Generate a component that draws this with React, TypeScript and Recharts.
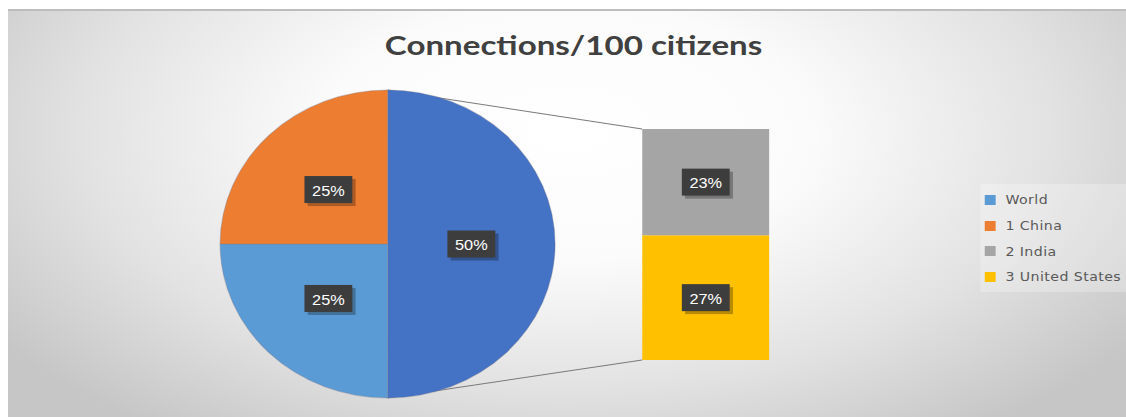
import { PieChart, Pie, Cell, BarChart, Bar, XAxis, YAxis, LabelList } from "recharts";

// Share of connections per 100 citizens (percent of total)
const categories = ["World", "1 China", "2 India", "3 United States"];
const shares = [25, 25, 23, 27];
const colors = ["#5B9BD5", "#ED7D31", "#A5A5A5", "#FFC000"];
const otherColor = "#4472C4";

const total = shares.reduce((a, b) => a + b, 0);
const otherValue = shares[2] + shares[3];

// pie: the "other" slice is split out into the bar on the right
const pieData = [
  { name: "Other", value: otherValue, fill: otherColor },
  { name: categories[0], value: shares[0], fill: colors[0] },
  { name: categories[1], value: shares[1], fill: colors[1] },
];
const barData = [{ name: "Other", india: shares[2], us: shares[3] }];

// the source picture is stretched horizontally
const S = 1.0877;
const W = 1118 / S;
const H = 406;

const PIE_CX = 349;
const PIE_CY = 233;
const PIE_R = 154;
const BAR_X = 583;
const BAR_Y = 118;
const BAR_W = 117;
const BAR_H = 231;

const RADIAN = Math.PI / 180;
const pct = (v: number) => `${Math.round((v / total) * 100)}%`;

const LabelBox = ({ cx, cy, text }: { cx: number; cy: number; text: string }) => {
  const w = 44;
  const h = 27;
  return (
    <g>
      <rect x={cx - w / 2 + 3} y={cy - h / 2 + 3} width={w} height={h} fill="rgba(0,0,0,0.28)" />
      <rect x={cx - w / 2} y={cy - h / 2} width={w} height={h} fill="#3d3d3d" />
      <text
        x={cx}
        y={cy + 1}
        fill="#ffffff"
        fontSize={15}
        textAnchor="middle"
        dominantBaseline="central"
        fontFamily="Liberation Sans, Arial, sans-serif"
      >
        {text}
      </text>
    </g>
  );
};

const renderPieLabel = (props: any) => {
  const { cx, cy, midAngle, outerRadius, value } = props;
  const r = outerRadius * 0.5;
  const x = cx + r * Math.cos(-midAngle * RADIAN);
  const y = cy + r * Math.sin(-midAngle * RADIAN);
  return <LabelBox cx={x} cy={y} text={pct(value)} />;
};

const renderBarLabel = (props: any) => {
  const x = Number(props.x);
  const y = Number(props.y);
  const width = Number(props.width);
  const height = Number(props.height);
  return <LabelBox cx={x + width / 2} cy={y + height / 2} text={pct(Number(props.value))} />;
};

export default function App() {
  const pieBox = PIE_R + 16;
  return (
    <div style={{ position: "absolute", left: 0, top: 0, width: 1126, height: 417, background: "#fff" }}>
      <div
        style={{
          position: "absolute",
          left: 8,
          top: 9,
          width: 1118,
          height: 406,
          borderTop: "2px solid #bdbdbd",
          overflow: "hidden",
          background:
            "radial-gradient(ellipse 62% 90% at 50% 30%, #ffffff 0%, #fbfbfb 35%, #e2e2e2 70%, #c6c6c6 100%)",
        }}
      >
        <div
          style={{
            position: "absolute",
            left: 0,
            top: 0,
            width: W,
            height: H,
            transform: `scaleX(${S})`,
            transformOrigin: "0 0",
          }}
        >
          <svg width={W} height={H} style={{ position: "absolute", left: 0, top: 0 }}>
            <line x1={PIE_CX} y1={PIE_CY - PIE_R} x2={BAR_X} y2={BAR_Y} stroke="#7a7a7a" strokeWidth={1} />
            <line x1={PIE_CX} y1={PIE_CY + PIE_R} x2={BAR_X} y2={BAR_Y + BAR_H} stroke="#7a7a7a" strokeWidth={1} />
            <text
              x={520}
              y={44}
              textAnchor="middle"
              fontSize={27}
              fontWeight="bold"
              fill="#404040"
              fontFamily="Lato, Open Sans, sans-serif"
              textLength={347}
              lengthAdjust="spacingAndGlyphs"
            >
              Connections/100 citizens
            </text>
          </svg>

          <div style={{ position: "absolute", left: PIE_CX - pieBox, top: PIE_CY - pieBox }}>
            <PieChart width={pieBox * 2} height={pieBox * 2} margin={{ top: 0, right: 0, bottom: 0, left: 0 }}>
              <Pie
                data={pieData}
                dataKey="value"
                nameKey="name"
                cx="50%"
                cy="50%"
                outerRadius={PIE_R}
                startAngle={90}
                endAngle={-270}
                stroke="rgba(120,120,140,0.35)"
                strokeWidth={1}
                label={renderPieLabel}
                labelLine={false}
                isAnimationActive={false}
              >
                {pieData.map((d) => (
                  <Cell key={d.name} fill={d.fill} />
                ))}
              </Pie>
            </PieChart>
          </div>

          <div style={{ position: "absolute", left: BAR_X, top: BAR_Y }}>
            <BarChart
              width={BAR_W}
              height={BAR_H}
              data={barData}
              margin={{ top: 0, right: 0, bottom: 0, left: 0 }}
              barCategoryGap={0}
            >
              <XAxis dataKey="name" hide />
              <YAxis hide domain={[0, otherValue]} allowDataOverflow />
              <Bar dataKey="us" stackId="a" fill={colors[3]} isAnimationActive={false}>
                <LabelList dataKey="us" content={renderBarLabel} />
              </Bar>
              <Bar dataKey="india" stackId="a" fill={colors[2]} isAnimationActive={false}>
                <LabelList dataKey="india" content={renderBarLabel} />
              </Bar>
            </BarChart>
          </div>

          <div
            style={{
              position: "absolute",
              left: 893.6,
              top: 173,
              width: 150,
              height: 108,
              paddingTop: 3,
              boxSizing: "border-box",
              background: "rgba(255,255,255,0.25)",
              fontFamily: "DejaVu Sans, sans-serif",
              fontSize: 13,
              letterSpacing: 0.4,
              color: "#595959",
            }}
          >
            {categories.map((c, i) => (
              <div key={c} style={{ display: "flex", alignItems: "center", height: 25.7 }}>
                <div style={{ width: 10, height: 10, marginLeft: 4.4, background: colors[i] }} />
                <span style={{ marginLeft: 9, whiteSpace: "nowrap" }}>{c}</span>
              </div>
            ))}
          </div>
        </div>
      </div>
    </div>
  );
}
